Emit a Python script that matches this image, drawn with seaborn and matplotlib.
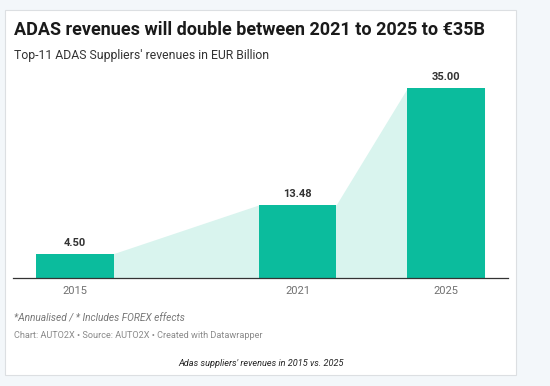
import numpy as np
import pandas as pd
import matplotlib
matplotlib.use("Agg")
import matplotlib.pyplot as plt
import seaborn as sns
from matplotlib.patches import Rectangle

# =====================================================
# DATA
# =====================================================

years = [2015, 2021, 2025]
revenues = [4.50, 13.48, 35.00]
value_labels = ["4.50", "13.48", "35.00"]

title = "ADAS revenues will double between 2021 to 2025 to €35B"
subtitle = "Top-11 ADAS Suppliers' revenues in EUR Billion"
note = "*Annualised / * Includes FOREX effects"
credit = "Chart: AUTO2X • Source: AUTO2X • Created with Datawrapper"
caption = "Adas suppliers' revenues in 2015 vs. 2025"

df = pd.DataFrame({"Year": years, "Revenue": revenues})

# =====================================================
# STYLE
# =====================================================

sns.set_theme(style="white")
plt.rcParams["font.family"] = ["Roboto", "DejaVu Sans"]

bar_color = "#0bbc9d"
area_color = "#d9f4ee"
width_rel = 0.52          # relative to 4-year min spacing
half_w = width_rel * 4 / 2

# =====================================================
# FIGURE
# =====================================================

fig = plt.figure(figsize=(5.5, 3.86), dpi=100)
fig.patch.set_facecolor("#f3f7fa")

card = Rectangle((5 / 550, 1 - 375 / 386), 511 / 550, 365 / 386,
                 transform=fig.transFigure, facecolor="white",
                 edgecolor="#dcdfe2", linewidth=0.8, zorder=-5)
fig.patches.append(card)

ax = fig.add_axes([13 / 550, 108 / 386, 495 / 550, 190 / 386])
ax.set_facecolor("none")

# connecting area between bars
xs = []
ys = []
for yr, val in zip(years, revenues):
    xs += [yr - half_w, yr + half_w]
    ys += [val, val]
ax.fill_between(xs, 0, ys, color=area_color, linewidth=0, zorder=1)

sns.barplot(
    data=df,
    x="Year",
    y="Revenue",
    native_scale=True,
    width=width_rel,
    color=bar_color,
    saturation=1,
    linewidth=0,
    ax=ax,
    zorder=2
)

for yr, val, lab in zip(years, revenues, value_labels):
    ax.text(yr, val + 1.1, lab, ha="center", va="bottom",
            fontsize=8, fontweight="bold", color="#333333")

ax.set_xlim(2015 - 62 / 37.1, 2025 + 62 / 37.1)
ax.set_ylim(0, 35)
ax.set_xticks(years)
ax.set_xticklabels([str(y) for y in years], fontsize=8, color="#707070")
ax.tick_params(axis="x", length=0, pad=6)
ax.set_yticks([])
ax.set_xlabel("")
ax.set_ylabel("")

for side in ["top", "right", "left"]:
    ax.spines[side].set_visible(False)
ax.spines["bottom"].set_color("#333333")
ax.spines["bottom"].set_linewidth(0.9)
ax.spines["bottom"].set_zorder(3)

# =====================================================
# TEXTS
# =====================================================

fig.text(14 / 550, 1 - 30 / 386, title, fontsize=13, fontweight="bold",
         color="#1a1a1a", va="center", ha="left")
fig.text(14 / 550, 1 - 56 / 386, subtitle, fontsize=8.8,
         color="#333333", va="center", ha="left")
fig.text(14 / 550, 1 - 319 / 386, note, fontsize=7.3, style="italic",
         color="#777777", va="center", ha="left")
fig.text(14 / 550, 1 - 335 / 386, credit, fontsize=6.6,
         color="#8a8a8a", va="center", ha="left")
fig.text(261 / 550, 1 - 363 / 386, caption, fontsize=6.6, style="italic",
         color="#222222", va="center", ha="center")

fig.savefig("out.png", dpi=100, facecolor=fig.get_facecolor())
